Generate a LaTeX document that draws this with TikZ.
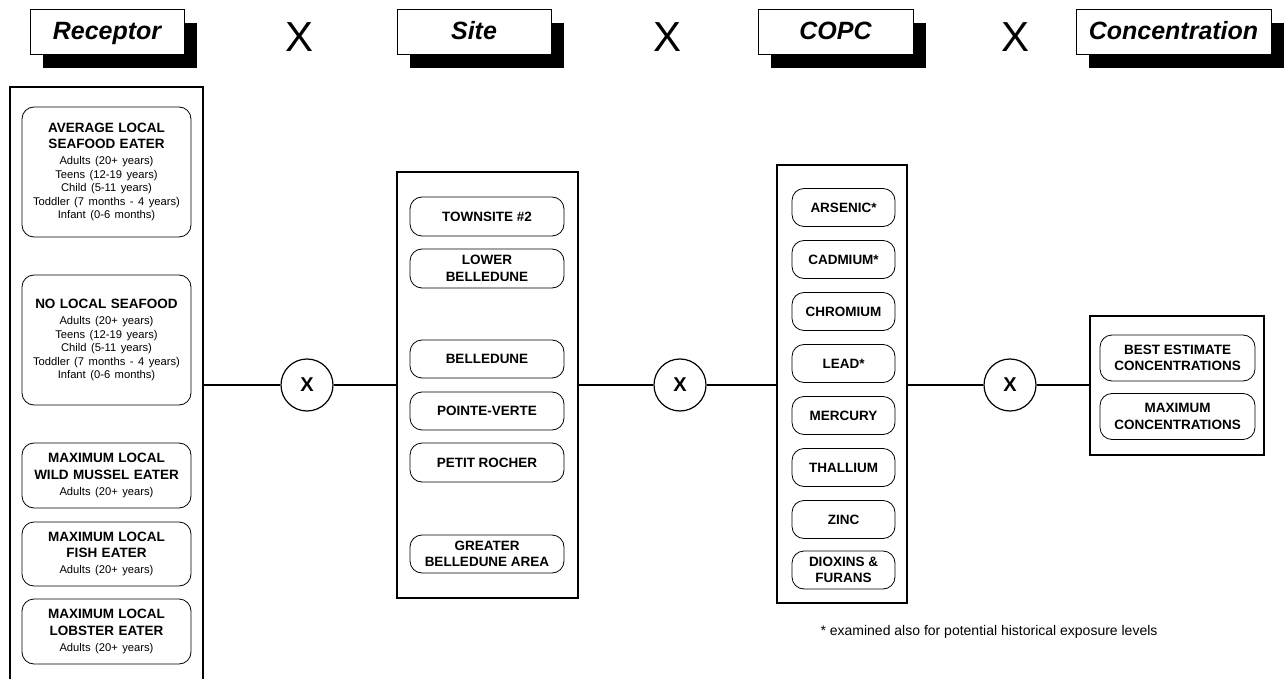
\documentclass[tikz,border=0pt]{standalone}
\usepackage{fontspec}
\setmainfont{Liberation Sans}
\usepackage{tikz}
\usetikzlibrary{shadows}

\newcommand{\itembf}{\fontsize{13.5}{16.5}\selectfont\bfseries}
\newcommand{\itemsm}{\vskip 2.5pt\fontsize{11.2}{13.5}\selectfont\mdseries}

\begin{document}
\begin{tikzpicture}[x=1pt, y=-1pt,
    head/.style={rectangle, draw, line width=1pt, fill=white, minimum height=45pt, inner sep=0pt,
      text height=17pt, text depth=3pt,
      font=\fontsize{25}{29}\selectfont\bfseries\itshape,
      general shadow={fill=black, shadow xshift=13pt, shadow yshift=-13pt}},
    times/.style={font=\fontsize{42}{46}\selectfont, inner sep=0pt},
    group/.style={rectangle, draw, line width=1.3pt, inner sep=0pt},
    item/.style={rectangle, rounded corners=12pt, draw, line width=0.8pt, align=center, inner sep=0pt, font=\itembf},
    cross/.style={circle, draw, line width=1.2pt, minimum size=52pt, inner sep=0pt, font=\fontsize{20}{24}\selectfont\bfseries},
    link/.style={line width=1.2pt}]

    \useasboundingbox (0,0) rectangle (1286,679);

    % Headers
    \node [head, minimum width=154pt] (hrec) at (107,32.5) {Receptor};
    \node [times] (t1) at (300,37) {X};
    \node [head, minimum width=154pt] (hsite) at (474,32.5) {Site};
    \node [times] (t2) at (668,37) {X};
    \node [head, minimum width=155pt] (hcopc) at (835.5,32.5) {COPC};
    \node [times] (t3) at (1015,37) {X};
    \node [head, minimum width=195pt] (hconc) at (1173.5,32.5) {Concentration};

    % Receptor
    \node [group, minimum width=193pt, minimum height=596pt] (receptor) at (106.5,385) {};
    \node [item, text width=169pt, minimum height=130pt] (avg) at (106.5,172)
      {AVERAGE LOCAL\\SEAFOOD EATER\par{\itemsm Adults (20+ years)\\Teens (12-19 years)\\Child (5-11 years)\\Toddler (7 months - 4 years)\\Infant (0-6 months)\par}};
    \node [item, text width=169pt, minimum height=130pt] (noloc) at (106.5,340)
      {NO LOCAL SEAFOOD\par{\itemsm Adults (20+ years)\\Teens (12-19 years)\\Child (5-11 years)\\Toddler (7 months - 4 years)\\Infant (0-6 months)\par}};
    \node [item, text width=169pt, minimum height=65pt] (mussel) at (106.5,475.5)
      {MAXIMUM LOCAL\\WILD MUSSEL EATER\par{\itemsm Adults (20+ years)\par}};
    \node [item, text width=169pt, minimum height=64pt] (fish) at (106.5,554)
      {MAXIMUM LOCAL\\FISH EATER\par{\itemsm Adults (20+ years)\par}};
    \node [item, text width=169pt, minimum height=65pt] (lobster) at (106.5,631.5)
      {MAXIMUM LOCAL\\LOBSTER EATER\par{\itemsm Adults (20+ years)\par}};

    % Site
    \node [group, minimum width=181pt, minimum height=426pt] (site) at (487.5,385) {};
    \node [item, minimum width=154pt, minimum height=39pt] (town) at (487,216.5) {TOWNSITE \#2};
    \node [item, minimum width=154pt, minimum height=39pt] (lower) at (487,268.5) {LOWER\\BELLEDUNE};
    \node [item, minimum width=154pt, minimum height=38pt] (bell) at (487,359) {BELLEDUNE};
    \node [item, minimum width=154pt, minimum height=38pt] (pointe) at (487,411) {POINTE-VERTE};
    \node [item, minimum width=154pt, minimum height=39pt] (petit) at (487,462.5) {PETIT ROCHER};
    \node [item, minimum width=154pt, minimum height=38pt] (greater) at (487,554) {GREATER\\BELLEDUNE AREA};

    % COPC
    \node [group, minimum width=130pt, minimum height=438pt] (copc) at (842,384) {};
    \node [item, minimum width=103pt, minimum height=38pt] (as) at (843.5,207.5) {ARSENIC*};
    \node [item, minimum width=103pt, minimum height=38pt] (cd) at (843.5,259.5) {CADMIUM*};
    \node [item, minimum width=103pt, minimum height=38pt] (cr) at (843.5,311.5) {CHROMIUM};
    \node [item, minimum width=103pt, minimum height=38pt] (pb) at (843.5,363.5) {LEAD*};
    \node [item, minimum width=103pt, minimum height=38pt] (hg) at (843.5,415.5) {MERCURY};
    \node [item, minimum width=103pt, minimum height=38pt] (tl) at (843.5,467.5) {THALLIUM};
    \node [item, minimum width=103pt, minimum height=38pt] (zn) at (843.5,519.5) {ZINC};
    \node [item, minimum width=103pt, minimum height=38pt] (diox) at (843.5,570) {DIOXINS \&\\FURANS};
    \node [font=\fontsize{14}{16}\selectfont, inner sep=0pt] (note) at (989,632)
      {* examined also for potential historical exposure levels};

    % Concentration
    \node [group, minimum width=174pt, minimum height=139pt] (conc) at (1177,385.5) {};
    \node [item, minimum width=155pt, minimum height=46pt] (best) at (1177.5,358) {BEST ESTIMATE\\CONCENTRATIONS};
    \node [item, minimum width=155pt, minimum height=46pt] (max) at (1177.5,416.5) {MAXIMUM\\CONCENTRATIONS};

    % Multipliers
    \node [cross] (x1) at (307,385) {X};
    \node [cross] (x2) at (680,385) {X};
    \node [cross] (x3) at (1010,385) {X};

    % Links
    \draw [link] (receptor.east |- x1) -- (x1);
    \draw [link] (x1) -- (site.west |- x1);
    \draw [link] (site.east |- x2) -- (x2);
    \draw [link] (x2) -- (copc.west |- x2);
    \draw [link] (copc.east |- x3) -- (x3);
    \draw [link] (x3) -- (conc.west |- x3);
\end{tikzpicture}
\end{document}
